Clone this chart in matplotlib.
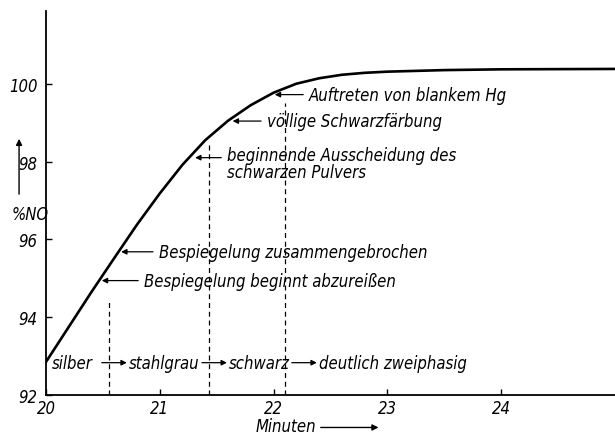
import matplotlib

matplotlib.use("Agg")

import matplotlib.pyplot as plt
from matplotlib.patches import FancyArrowPatch

# curve: %NO vs. Minuten
MINUTEN = [20.0, 20.2, 20.4, 20.6, 20.8, 21.0, 21.2, 21.4, 21.6, 21.8,
           22.0, 22.2, 22.4, 22.6, 22.8, 23.0, 23.5, 24.0, 25.0]
PROZENT_NO = [92.85, 93.75, 94.65, 95.52, 96.38, 97.18, 97.92, 98.55, 99.05, 99.45,
              99.77, 100.0, 100.14, 100.23, 100.28, 100.31, 100.35, 100.37, 100.38]

X_TICKS = [20, 21, 22, 23, 24]
X_LABELS = ["20", "21", "22", "23", "24"]
Y_TICKS = [92, 94, 96, 98, 100]
Y_LABELS = ["92", "94", "96", "98", "100"]

# dashed markers: x position and height of their upper end
DASH_X = [20.55, 21.43, 22.10]
DASH_TOP = [94.46, 98.5, 99.5]

# arrow annotations pointing at the curve
NOTE_TEXT = [
    "Auftreten von blankem Hg",
    "völlige Schwarzfärbung",
    "beginnende Ausscheidung des\nschwarzen Pulvers",
    "Bespiegelung zusammengebrochen",
    "Bespiegelung beginnt abzureißen",
]
NOTE_HEAD_X = [22.01, 21.64, 21.31, 20.66, 20.49]
NOTE_TEXT_X = [22.31, 21.94, 21.59, 20.99, 20.86]
NOTE_Y = [99.72, 99.04, 98.1, 95.68, 94.94]

# phase sequence along the bottom
PHASES = ["silber", "stahlgrau", "schwarz", "deutlich zweiphasig"]
PHASE_X = [20.05, 20.73, 21.61, 22.40]
PHASE_Y = 92.83

FONT = ["Liberation Sans Narrow", "DejaVu Sans"]
SIZE = 12


def main() -> None:
    plt.rcParams.update({"font.family": FONT, "font.style": "italic",
                         "font.stretch": "condensed"})

    fig = plt.figure(figsize=(6.15, 4.35), dpi=100)
    ax = fig.add_axes([0.0748, 0.0897, 0.9252, 0.8828])

    ax.plot(MINUTEN, PROZENT_NO, color="black", linewidth=1.9, solid_capstyle="round")

    for x, top in zip(DASH_X, DASH_TOP):
        ax.plot([x, x], [92, top], color="black", linewidth=0.9, linestyle=(0, (4, 3)))

    arrow = dict(arrowstyle="-|>", color="black", lw=0.9, mutation_scale=8,
                 shrinkA=0, shrinkB=0)
    for text, hx, tx, y in zip(NOTE_TEXT, NOTE_HEAD_X, NOTE_TEXT_X, NOTE_Y):
        ax.annotate("", xy=(hx, y), xytext=(tx - 0.05, y), arrowprops=arrow)
        if "\n" in text:
            ax.text(tx, y + 0.3, text, ha="left", va="top",
                    fontsize=SIZE, linespacing=0.95)
        else:
            ax.text(tx, y, text, ha="left", va="center", fontsize=SIZE)

    for i, (name, x) in enumerate(zip(PHASES, PHASE_X)):
        ax.text(x, PHASE_Y, name, ha="left", va="center", fontsize=SIZE)
        if i + 1 < len(PHASES):
            nxt = PHASE_X[i + 1]
            ax.annotate("", xy=(nxt - 0.02, PHASE_Y), xytext=(nxt - 0.24, PHASE_Y),
                        arrowprops=arrow)

    ax.set_xlim(20, 25.0)
    ax.set_ylim(92, 101.87)
    ax.set_xticks(X_TICKS)
    ax.set_xticklabels(X_LABELS)
    ax.set_yticks(Y_TICKS)
    ax.set_yticklabels(Y_LABELS)
    ax.tick_params(direction="in", length=4, width=1.0, labelsize=SIZE)
    ax.tick_params(axis="x", pad=3)
    ax.tick_params(axis="y", pad=6)

    for side in ("top", "right"):
        ax.spines[side].set_visible(False)
    for side in ("left", "bottom"):
        ax.spines[side].set_linewidth(1.3)

    # axis labels with arrows, as in the original
    fig.text(0.0195, 0.505, "%NO", ha="left", va="center", fontsize=SIZE)
    fig.add_artist(FancyArrowPatch(
        (0.031, 0.545), (0.031, 0.685), transform=fig.transFigure,
        arrowstyle="-|>", mutation_scale=9, color="black", lw=1.0))
    fig.text(0.415, 0.019, "Minuten", ha="left", va="center", fontsize=SIZE)
    fig.add_artist(FancyArrowPatch(
        (0.517, 0.015), (0.62, 0.015), transform=fig.transFigure,
        arrowstyle="-|>", mutation_scale=9, color="black", lw=1.0))

    fig.savefig("out.png", dpi=100, facecolor="white")


if __name__ == "__main__":
    main()
